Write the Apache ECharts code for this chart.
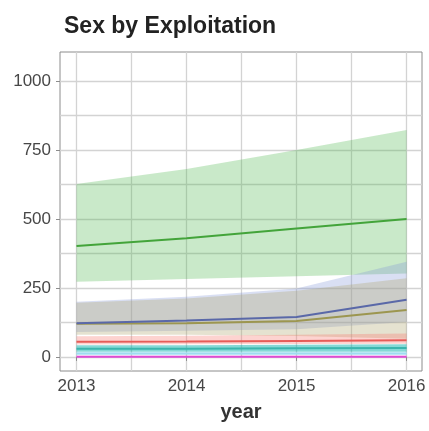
<!DOCTYPE html>
<html>
<head>
<meta charset="utf-8">
<script src="https://cdn.jsdelivr.net/npm/echarts@6/dist/echarts.min.js"></script>
<style>
  html, body { margin: 0; padding: 0; background: #ffffff; }
  #chart { width: 429px; height: 431px; }
</style>
</head>
<body>
<div id="chart"></div>
<script>
// Years on the x axis
const years = [2013, 2014, 2015, 2016];
const xTickLabels = [2013, 2014, 2015, 2016];
const xMinorLines = [2013.5, 2014.5, 2015.5];
const yTickLabels = [0, 250, 500, 750, 1000];
const yMinorLines = [125, 375, 625, 875];

// Estimates with lower / upper bounds, one group per exploitation type
const pinkMid  = [1, 1, 1, 1];
const pinkLow  = [0, 0, 0, 0];
const pinkHigh = [4, 4, 4, 4];

const cyanMid  = [12, 12, 12, 12];
const cyanLow  = [8, 8, 8, 8];
const cyanHigh = [17, 17, 17, 17];

const tealMid  = [30, 30, 31, 32];
const tealLow  = [19, 19, 19, 19];
const tealHigh = [42, 42, 44, 46];

const redMid   = [55, 56, 58, 60];
const redLow   = [45, 46, 47, 48];
const redHigh  = [75, 77, 80, 85];

const oliveMid  = [120, 122, 130, 170];
const oliveLow  = [80, 80, 76, 66];
const oliveHigh = [196, 212, 240, 285];

const slateMid  = [122, 132, 145, 207];
const slateLow  = [90, 95, 100, 127];
const slateHigh = [200, 218, 248, 345];

const greenMid  = [402, 430, 465, 500];
const greenLow  = [272, 282, 292, 302];
const greenHigh = [627, 681, 750, 822];

// Ribbon between low and high, drawn as one polygon through the axis scales
function band(id, low, high, fill) {
  const rows = years.map((y, i) => [y, low[i], high[i]]);
  return {
    name: id + '-band', type: 'custom', silent: true, z: 1,
    data: rows,
    encode: { x: 0, y: [1, 2] },
    renderItem: function (params, api) {
      if (params.dataIndex !== 0) return null;
      const top = rows.map((r) => api.coord([r[0], r[2]]));
      const bottom = rows.slice().reverse().map((r) => api.coord([r[0], r[1]]));
      return {
        type: 'polygon',
        shape: { points: top.concat(bottom) },
        style: { fill: fill, stroke: null }
      };
    }
  };
}

function line(id, mid, color) {
  return {
    name: id, type: 'line', data: years.map((y, i) => [y, mid[i]]), symbol: 'none',
    lineStyle: { color: color, width: 2 }, z: 3
  };
}

const series = [
  band('green', greenLow, greenHigh, 'rgba(70,180,70,0.29)'),
  band('slate', slateLow, slateHigh, 'rgba(130,150,215,0.30)'),
  band('olive', oliveLow, oliveHigh, 'rgba(175,165,110,0.32)'),
  band('red', redLow, redHigh, 'rgba(248,118,109,0.32)'),
  band('teal', tealLow, tealHigh, 'rgba(0,175,170,0.48)'),
  band('cyan', cyanLow, cyanHigh, 'rgba(0,182,235,0.22)'),
  band('pink', pinkLow, pinkHigh, 'rgba(240,90,220,0.25)'),
  line('green', greenMid, '#43a43a'),
  line('olive', oliveMid, '#9c9650'),
  line('slate', slateMid, '#5a68a8'),
  line('red', redMid, '#e65c58'),
  line('teal', tealMid, '#3ab5ad'),
  line('cyan', cyanMid, '#9fdcf0'),
  line('pink', pinkMid, '#de4cd4')
];

const textColor = '#474747';
const gridColor = '#d3d3d3';
const frameColor = '#8c8c8c';
const font = 'Liberation Sans, Arial, Helvetica, sans-serif';

const chart = echarts.init(document.getElementById('chart'), null, { renderer: 'canvas' });
chart.setOption({
  animation: false,
  backgroundColor: '#ffffff',
  title: {
    text: 'Sex by Exploitation',
    left: 59, top: 10,
    textStyle: { fontFamily: font, fontSize: 23, fontWeight: 'bold', color: '#222222' }
  },
  grid: {
    left: 60, right: 7, top: 52, bottom: 60,
    show: true, borderColor: frameColor, borderWidth: 1, backgroundColor: 'transparent'
  },
  xAxis: [
    {
      type: 'value', min: 2012.85, max: 2016.14,
      name: 'year', nameLocation: 'middle', nameGap: 31,
      nameTextStyle: { fontFamily: font, fontSize: 20, fontWeight: 'bold', color: '#333333' },
      axisLine: { show: false },
      axisTick: { show: true, length: 4, lineStyle: { color: frameColor }, customValues: xTickLabels },
      axisLabel: { customValues: xTickLabels, margin: 7, fontFamily: font, fontSize: 17, color: textColor,
                   formatter: (v) => String(v) },
      splitLine: { show: true, lineStyle: { color: gridColor, width: 1.3 } }
    },
    {
      type: 'value', min: 2012.85, max: 2016.14, position: 'bottom',
      axisLine: { show: false },
      axisTick: { show: false, customValues: xMinorLines },
      axisLabel: { show: false, customValues: xMinorLines },
      splitLine: { show: true, lineStyle: { color: gridColor, width: 1.3 } }
    }
  ],
  yAxis: [
    {
      type: 'value', min: -51, max: 1105,
      axisLine: { show: false },
      axisTick: { show: true, length: 4, lineStyle: { color: frameColor }, customValues: yTickLabels },
      axisLabel: { customValues: yTickLabels, margin: 9, fontFamily: font, fontSize: 17, color: textColor,
                   formatter: (v) => String(v) },
      splitLine: { show: true, lineStyle: { color: gridColor, width: 1.3 } }
    },
    {
      type: 'value', min: -51, max: 1105, position: 'left',
      axisLine: { show: false },
      axisTick: { show: false, customValues: yMinorLines },
      axisLabel: { show: false, customValues: yMinorLines },
      splitLine: { show: true, lineStyle: { color: gridColor, width: 1.3 } }
    }
  ],
  series: series
});
</script>
</body>
</html>
